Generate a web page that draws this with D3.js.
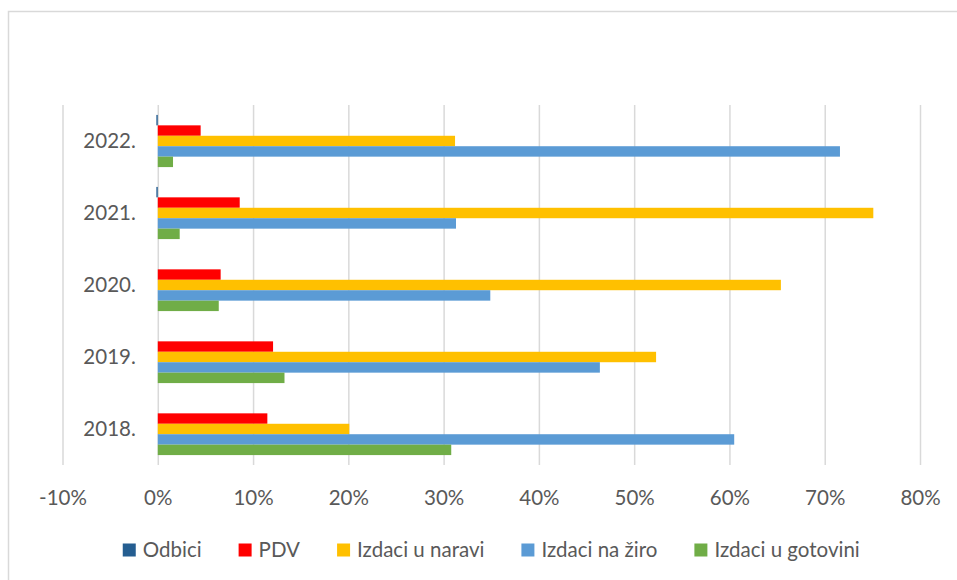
<!DOCTYPE html>
<html>
<head>
<meta charset="utf-8">
<script src="https://cdn.jsdelivr.net/npm/d3@7"></script>
<style>
  body { margin: 0; background: #fff; }
  svg { display: block; }
  text { font-family: Lato, "Open Sans", sans-serif; fill: #595959; }
</style>
</head>
<body>
<script>
// years, top to bottom as shown
const years = ['2022.', '2021.', '2020.', '2019.', '2018.']
const series = ['Odbici', 'PDV', 'Izdaci u naravi', 'Izdaci na žiro', 'Izdaci u gotovini']
const colors = ['#255E91', '#FF0000', '#FFC000', '#5B9BD5', '#70AD47']

// shares per series, in the same order as years
const odbici = [-0.0015, -0.0015, 0, 0, 0]
const pdv = [0.045, 0.086, 0.066, 0.121, 0.115]
const naravi = [0.312, 0.751, 0.654, 0.523, 0.201]
const ziro = [0.716, 0.313, 0.349, 0.464, 0.605]
const gotovini = [0.016, 0.023, 0.064, 0.133, 0.308]

const xTicks = [-0.1, 0, 0.1, 0.2, 0.3, 0.4, 0.5, 0.6, 0.7, 0.8]

const values = [odbici, pdv, naravi, ziro, gotovini]

var W = 957, H = 580
var margin = { top: 105, left: 62.5, right: 37, bottom: 115 }
var fontSize = 20.5

const svg = d3.select('body').append('svg')
    .attr('width', W)
    .attr('height', H)

// chart frame (runs off the right and bottom edges)
svg.append('rect')
    .attr('x', 8.5).attr('y', 11.5)
    .attr('width', 1000).attr('height', 700)
    .attr('fill', 'none')
    .attr('stroke', '#D9D9D9')
    .attr('stroke-width', 1.5)

let x = d3.scaleLinear().domain([-0.1, 0.8]).range([margin.left, W - margin.right])
let y0 = d3.scaleBand().domain(years).range([margin.top, H - margin.bottom])
let y1 = d3.scaleBand().domain(series).range([0, y0.bandwidth()]).paddingOuter(0.95).paddingInner(0)

const pct = d => d3.format('.0%')(d).replace('−', '-')

// vertical gridlines + labels via axis
const xAxis = svg.append('g')
    .attr('transform', `translate(0, ${H - margin.bottom})`)
    .call(d3.axisBottom(x).tickValues(xTicks)
        .tickSize(H - margin.bottom - margin.top)
        .tickFormat(pct))
xAxis.select('.domain').remove()
xAxis.selectAll('.tick line')
    .attr('y2', -(H - margin.bottom - margin.top))
    .attr('stroke', '#D9D9D9')
    .attr('stroke-width', 1.5)
xAxis.selectAll('.tick text')
    .attr('y', 33)
    .attr('dy', '0.35em')
    .attr('font-size', fontSize)
    .attr('fill', '#595959')
    .style('font-family', 'Lato, sans-serif')

// bars
const groups = svg.append('g').selectAll('g')
    .data(years)
    .join('g')
    .attr('transform', d => `translate(0, ${y0(d)})`)

groups.selectAll('rect')
    .data((yr, i) => series.map((s, j) => ({ s: s, v: values[j][i], c: colors[j] })))
    .join('rect')
    .attr('x', d => x(Math.min(0, d.v)))
    .attr('y', d => y1(d.s))
    .attr('width', d => Math.abs(x(d.v) - x(0)))
    .attr('height', y1.bandwidth())
    .attr('fill', d => d.c)

// category labels
const yAxis = svg.append('g')
    .attr('transform', `translate(${x(0) - 22}, 0)`)
    .call(d3.axisLeft(y0).tickSize(0).tickPadding(0))
yAxis.select('.domain').remove()
yAxis.selectAll('.tick text')
    .attr('font-size', fontSize)
    .attr('fill', '#595959')
    .style('font-family', 'Lato, sans-serif')

// legend, centred under the plot
const legend = svg.append('g')
let items = legend.selectAll('g').data(series).join('g')
items.append('rect')
    .attr('width', 13).attr('height', 13)
    .attr('y', -6.5)
    .attr('fill', (d, i) => colors[i])
items.append('text')
    .attr('x', 20)
    .attr('dy', '0.35em')
    .attr('font-size', fontSize)
    .text(d => d)

let pos = 0
const gap = 37
items.each(function () {
    const w = this.getBBox().width
    d3.select(this).attr('transform', `translate(${pos}, 0)`)
    pos += w + gap
})
pos -= gap
legend.attr('transform', `translate(${(x(-0.1) + x(0.8)) / 2 - pos / 2}, 550)`)
</script>
</body>
</html>
